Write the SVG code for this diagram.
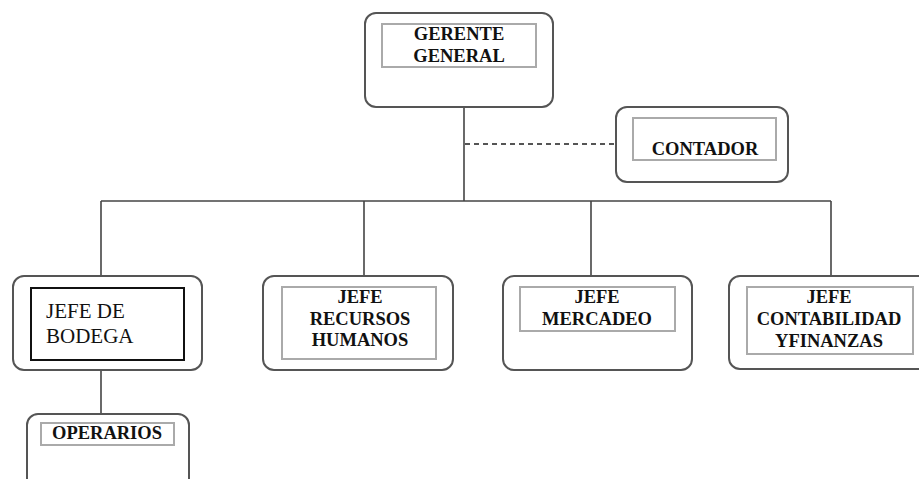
<svg xmlns="http://www.w3.org/2000/svg" width="919" height="479" viewBox="0 0 919 479">
<style>
.outer{fill:#fff;stroke:#555;stroke-width:2}
.inner{fill:none;stroke:#aaa;stroke-width:2}
.innerb{fill:none;stroke:#111;stroke-width:2}
.t{font-family:"Liberation Serif",serif;font-weight:bold;font-size:18.5px;fill:#111;text-anchor:middle}
.tn{font-family:"Liberation Serif",serif;font-size:21px;fill:#111}
.ln{stroke:#444;stroke-width:1.6;fill:none}
.dash{stroke:#555;stroke-width:2;stroke-dasharray:5 4;fill:none}
</style>
<rect width="919" height="479" fill="#fff"/>
<g id="connectors">
<line class="ln" x1="464" y1="106" x2="464" y2="201"/>
<line class="dash" x1="465" y1="144" x2="615" y2="144"/>
<line class="ln" x1="101" y1="201" x2="831" y2="201"/>
<line class="ln" x1="101" y1="201" x2="101" y2="276"/>
<line class="ln" x1="364" y1="201" x2="364" y2="276"/>
<line class="ln" x1="591" y1="201" x2="591" y2="276"/>
<line class="ln" x1="831" y1="201" x2="831" y2="276"/>
<line class="ln" x1="101" y1="370" x2="101" y2="414"/>
</g>
<g id="gerente">
<rect class="outer" x="365" y="13" width="188" height="94" rx="11"/>
<rect class="inner" x="382" y="24" width="154" height="43"/>
<text class="t" x="459" y="40">GERENTE</text>
<text class="t" x="459" y="62">GENERAL</text>
</g>
<g id="contador">
<rect class="outer" x="616" y="107" width="172" height="75" rx="11"/>
<rect class="inner" x="633" y="118" width="143" height="42"/>
<text class="t" x="705" y="155">CONTADOR</text>
</g>
<g id="bodega">
<rect class="outer" x="13" y="276" width="189" height="94" rx="11"/>
<rect class="innerb" x="31" y="288" width="153" height="72"/>
<text class="tn" x="46" y="318">JEFE DE</text>
<text class="tn" x="46" y="343">BODEGA</text>
</g>
<g id="rrhh">
<rect class="outer" x="263" y="276" width="190" height="94" rx="11"/>
<rect class="inner" x="282" y="287" width="154" height="72"/>
<text class="t" x="360" y="303">JEFE</text>
<text class="t" x="360" y="325">RECURSOS</text>
<text class="t" x="360" y="346">HUMANOS</text>
</g>
<g id="mercadeo">
<rect class="outer" x="503" y="276" width="189" height="94" rx="11"/>
<rect class="inner" x="520" y="287" width="155" height="44"/>
<text class="t" x="597" y="303">JEFE</text>
<text class="t" x="597" y="325">MERCADEO</text>
</g>
<g id="contabilidad">
<rect class="outer" x="729" y="276" width="200" height="93" rx="11"/>
<rect class="inner" x="747" y="287" width="166" height="67"/>
<text class="t" x="829" y="303">JEFE</text>
<text class="t" x="829" y="325">CONTABILIDAD</text>
<text class="t" x="829" y="347">YFINANZAS</text>
</g>
<g id="operarios">
<rect class="outer" x="27" y="414" width="162" height="80" rx="11"/>
<rect class="inner" x="41" y="423" width="133" height="22"/>
<text class="t" x="107" y="439">OPERARIOS</text>
</g>
</svg>
